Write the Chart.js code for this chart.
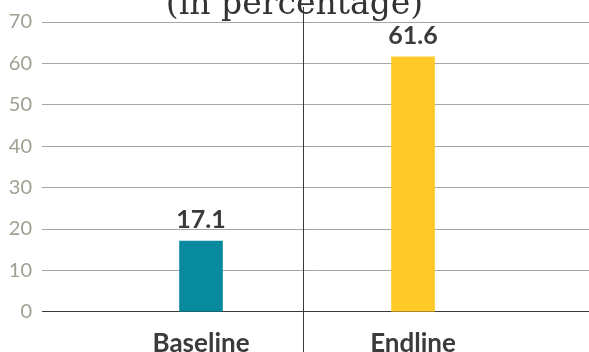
<!DOCTYPE html>
<html>
<head>
<meta charset="utf-8">
<script src="https://cdn.jsdelivr.net/npm/chart.js@4/dist/chart.umd.min.js"></script>
<style>
  html, body { margin: 0; padding: 0; background: #ffffff; }
  #wrap { width: 589px; height: 352px; position: relative; }
</style>
</head>
<body>
<div id="wrap"><canvas id="c"></canvas></div>
<script>
const categories = ['Baseline', 'Endline'];
const values = [17.1, 61.6];
const barColors = ['#088a9e', '#ffca28'];
const yTicks = [0, 10, 20, 30, 40, 50, 60, 70];
const titleText = '(in percentage)';

const dividerPlugin = {
  id: 'divider',
  afterDraw(chart) {
    const x = chart.scales.x.getPixelForValue(0.48);
    const ctx = chart.ctx;
    ctx.save();
    ctx.strokeStyle = '#3a3a3a';
    ctx.lineWidth = 1;
    ctx.beginPath();
    ctx.moveTo(Math.round(x) + 0.5, 7);
    ctx.lineTo(Math.round(x) + 0.5, chart.height);
    ctx.stroke();
    ctx.restore();
  }
};

const valueLabels = {
  id: 'valueLabels',
  afterDatasetsDraw(chart) {
    const ctx = chart.ctx;
    const meta = chart.getDatasetMeta(0);
    ctx.save();
    ctx.font = 'bold 25px Lato';
    ctx.fillStyle = '#3b3b3b';
    ctx.textAlign = 'center';
    ctx.textBaseline = 'alphabetic';
    meta.data.forEach((bar, i) => {
      ctx.fillText(values[i].toFixed(1), bar.x, bar.y - 13);
    });
    ctx.restore();
  }
};

new Chart(document.getElementById('c'), {
  type: 'bar',
  data: {
    datasets: [{
      data: categories.map((c, i) => ({ x: i, y: values[i] })),
      backgroundColor: barColors,
      barThickness: 43,
      borderWidth: 0
    }]
  },
  options: {
    responsive: true,
    maintainAspectRatio: false,
    animation: false,
    layout: { padding: { top: 0, bottom: -15, left: 0, right: 0 } },
    plugins: {
      legend: { display: false },
      tooltip: { enabled: false },
      title: {
        display: true,
        text: titleText,
        color: '#333333',
        font: { family: 'DejaVu Serif', size: 33, weight: 'normal', lineHeight: 1.2 },
        padding: { top: -16, bottom: -3.3 },
        align: 'center'
      }
    },
    scales: {
      x: {
        type: 'linear',
        offset: false,
        min: -0.75,
        max: 1.83,
        afterBuildTicks(scale) {
          scale.ticks = categories.map((c, i) => ({ value: i }));
        },
        ticks: {
          callback: (v) => categories[v],
          autoSkip: false,
          maxRotation: 0,
          padding: 8,
          color: '#3b3b3b',
          font: { family: 'Lato', size: 26, weight: 'bold' }
        },
        grid: { display: false },
        border: { display: true, color: '#3a3a3a', width: 1 }
      },
      y: {
        min: 0,
        max: 70,
        afterBuildTicks(scale) {
          scale.ticks = yTicks.map(v => ({ value: v }));
        },
        afterFit(scale) { scale.width = 42; },
        ticks: {
          padding: 10,
          color: '#a09f92',
          font: { family: 'Lato', size: 20 }
        },
        grid: {
          drawTicks: false,
          color: (ctx) => ctx.tick && ctx.tick.value === 0 ? '#3a3a3a' : '#a6a6a6',
          lineWidth: 1
        },
        border: { display: false }
      }
    }
  },
  plugins: [dividerPlugin, valueLabels]
});
</script>
</body>
</html>
